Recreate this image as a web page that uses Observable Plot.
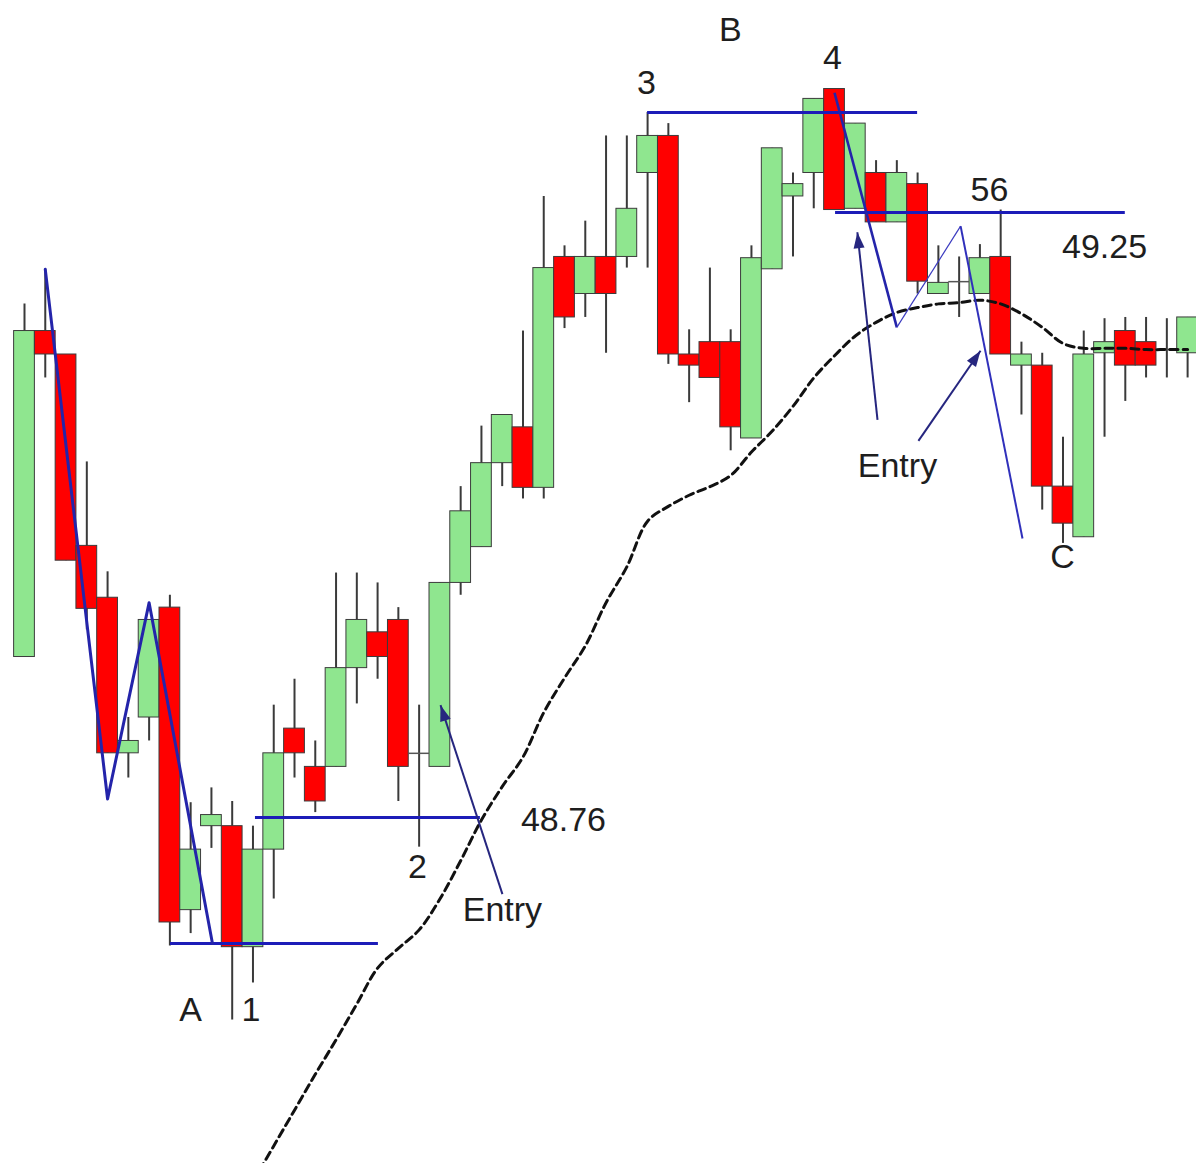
<!DOCTYPE html>
<html>
<head>
<meta charset="utf-8">
<script src="https://cdn.jsdelivr.net/npm/d3@7"></script>
<script src="https://cdn.jsdelivr.net/npm/@observablehq/plot@0.6"></script>
<style>
  html, body { margin: 0; padding: 0; background: #ffffff; }
  #chart svg { display: block; }
</style>
</head>
<body>
<div id="chart"></div>
<script>
// ---- candle data (price) ----
const candleOpen = [48.890, 49.154, 49.135, 48.980, 48.938, 48.812, 48.841, 48.930, 48.685, 48.753,
  48.753, 48.655, 48.734, 48.832, 48.801, 48.801, 48.881, 48.910, 48.920, 48.812,
  48.801, 48.950, 48.979, 49.047, 49.076, 49.027, 49.214, 49.184, 49.214, 49.214,
  49.282, 49.312, 49.135, 49.145, 49.145, 49.067, 49.204, 49.263, 49.282, 49.350,
  49.253, 49.282, 49.242, 49.273, 49.184, 49.194, 49.184, 49.214, 49.126, 49.126,
  49.028, 48.987, 49.136, 49.154, 49.145, 49.139, 49.136];
const candleHigh = [49.176, 49.204, 49.135, 49.048, 48.959, 48.841, 48.920, 48.940, 48.772, 48.784,
  48.773, 48.753, 48.851, 48.872, 48.822, 48.958, 48.958, 48.950, 48.930, 48.851,
  48.950, 49.028, 49.077, 49.086, 49.154, 49.263, 49.223, 49.243, 49.312, 49.312,
  49.331, 49.322, 49.155, 49.205, 49.155, 49.223, 49.302, 49.282, 49.342, 49.350,
  49.322, 49.292, 49.292, 49.282, 49.223, 49.214, 49.224, 49.252, 49.145, 49.136,
  49.068, 49.154, 49.164, 49.165, 49.165, 49.164, 49.165];
const candleLow = [48.890, 49.116, 48.968, 48.912, 48.812, 48.792, 48.822, 48.656, 48.666, 48.735,
  48.596, 48.626, 48.694, 48.792, 48.764, 48.801, 48.852, 48.872, 48.773, 48.736,
  48.801, 48.940, 48.979, 49.028, 49.018, 49.018, 49.156, 49.165, 49.136, 49.205,
  49.205, 49.127, 49.096, 49.116, 49.057, 49.067, 49.204, 49.214, 49.253, 49.252,
  49.253, 49.242, 49.242, 49.184, 49.184, 49.165, 49.184, 49.135, 49.086, 49.009,
  48.982, 48.987, 49.068, 49.097, 49.116, 49.116, 49.116];
const candleClose = [49.154, 49.135, 48.968, 48.929, 48.812, 48.822, 48.920, 48.675, 48.734, 48.762,
  48.655, 48.734, 48.812, 48.812, 48.773, 48.881, 48.920, 48.890, 48.801, 48.812,
  48.950, 49.008, 49.047, 49.086, 49.027, 49.205, 49.165, 49.214, 49.184, 49.253,
  49.312, 49.135, 49.126, 49.116, 49.076, 49.213, 49.302, 49.273, 49.342, 49.252,
  49.322, 49.242, 49.282, 49.194, 49.193, 49.194, 49.213, 49.135, 49.135, 49.028,
  48.998, 49.135, 49.145, 49.126, 49.126, 49.139, 49.165];

// ---- moving average (dashed) ----
const maValues = [null, null, null, null, null, null, null, null, null, null,
  null, 48.465, 48.494, 48.523, 48.552, 48.580, 48.609, 48.638, 48.654, 48.669,
  48.694, 48.725, 48.758, 48.785, 48.809, 48.845, 48.873, 48.899, 48.934, 48.963,
  49.000, 49.012, 49.021, 49.028, 49.037, 49.056, 49.073, 49.093, 49.116, 49.134,
  49.150, 49.161, 49.169, 49.173, 49.176, 49.177, 49.179, 49.176, 49.168, 49.157,
  49.144, 49.140, 49.140, 49.140, 49.139, 49.139, 49.139];

// ---- annotations (bar index, price) ----
const leftZigzagX = [1, 4, 6, 9.05];
const leftZigzagY = [49.204, 48.775, 48.934, 48.658];
const rightZigzagX = [39, 42, 45.07, 48.05];
const rightZigzagY = [49.347, 49.157, 49.239, 48.986];
const levelX1 = [7.03, 11.12, 30, 39.05];
const levelX2 = [17.04, 21.95, 43, 53.0];
const levelY = [48.658, 48.76, 49.331, 49.25];
const arrowX1 = [23.01, 41.07, 43.04];
const arrowY1 = [48.698, 49.082, 49.065];
const arrowX2 = [20.03, 40.1, 46.03];
const arrowY2 = [48.851, 49.234, 49.138];
const labelText = ["A", "1", "2", "3", "B", "4", "56", "C", "48.76", "49.25", "Entry", "Entry"];
const labelX = [8, 10.9, 18.92, 29.95, 33.99, 38.9, 46.46, 49.98, 25.95, 52.0, 23.01, 42.03];
const labelY = [48.604, 48.604, 48.720, 49.355, 49.398, 49.375, 49.268, 48.971, 48.758, 49.222, 48.685, 49.045];

// ---- chart ----
const W = 1196, H = 1163;
const xDomain = [-1.1555, 56.428];
const yDomain = [48.4798, 49.4217];

const idx = candleOpen.map((_, i) => i);
const bodies = idx.filter(i => candleOpen[i] !== candleClose[i]);
const dojis = idx.filter(i => candleOpen[i] === candleClose[i]);
const maIdx = idx.filter(i => maValues[i] != null);

const xS = d3.scaleLinear().domain(xDomain).range([0, W]);
const yS = d3.scaleLinear().domain(yDomain).range([H, 0]);

const headSymbol = {
  draw(ctx) {
    const L = 16, w = 11;
    ctx.moveTo(0, 0);
    ctx.lineTo(-w / 2, L);
    ctx.lineTo(w / 2, L);
    ctx.closePath();
  }
};
const arrowColor = "#26267f";
const headMarks = arrowX1.map((_, k) => {
  const px = xS(arrowX2[k]) - xS(arrowX1[k]);
  const py = yS(arrowY2[k]) - yS(arrowY1[k]);
  const angle = Math.atan2(px, -py) * 180 / Math.PI;
  return Plot.dot([k], {
    x: d => arrowX2[d], y: d => arrowY2[d],
    symbol: headSymbol, r: 6, fill: arrowColor, stroke: "none", rotate: angle
  });
});

const seg = (xs, ys) => xs.slice(0, -1).map((_, k) => k);

const chart = Plot.plot({
  width: W,
  height: H,
  margin: 0,
  x: { domain: xDomain, axis: null },
  y: { domain: yDomain, axis: null },
  marks: [
    // wicks
    Plot.ruleX(idx, { x: i => i, y1: i => candleLow[i], y2: i => candleHigh[i], stroke: "#3a3a3a", strokeWidth: 2 }),
    // bodies
    Plot.rect(bodies, {
      x1: i => i - 0.5, x2: i => i + 0.5,
      y1: i => Math.min(candleOpen[i], candleClose[i]),
      y2: i => Math.max(candleOpen[i], candleClose[i]),
      fill: i => candleClose[i] > candleOpen[i] ? "#8fe68f" : "#ff0000",
      stroke: "#3c3c3c", strokeWidth: 1
    }),
    // doji bars
    Plot.ruleY(dojis, { y: i => candleOpen[i], x1: i => i - 0.5, x2: i => i + 0.5, stroke: "#555", strokeWidth: 1.5 }),
    // moving average
    Plot.line(maIdx, { x: i => i, y: i => maValues[i], stroke: "#111", strokeWidth: 3, strokeDasharray: "8,5", curve: "catmull-rom", clip: true }),
    // level lines
    Plot.ruleY(levelY.map((_, k) => k), { y: k => levelY[k], x1: k => levelX1[k], x2: k => levelX2[k], stroke: "#1c1cb8", strokeWidth: 3 }),
    // left zigzag
    Plot.line(leftZigzagX.map((_, k) => k), { x: k => leftZigzagX[k], y: k => leftZigzagY[k], stroke: "#2424aa", strokeWidth: 3 }),
    // right zigzag (varying weight)
    Plot.link([0], { x1: k => rightZigzagX[k], y1: k => rightZigzagY[k], x2: k => rightZigzagX[k + 1], y2: k => rightZigzagY[k + 1], stroke: "#2424aa", strokeWidth: 2.6 }),
    Plot.link([1], { x1: k => rightZigzagX[k], y1: k => rightZigzagY[k], x2: k => rightZigzagX[k + 1], y2: k => rightZigzagY[k + 1], stroke: "#3a3ac0", strokeWidth: 1.2 }),
    Plot.link([2], { x1: k => rightZigzagX[k], y1: k => rightZigzagY[k], x2: k => rightZigzagX[k + 1], y2: k => rightZigzagY[k + 1], stroke: "#3030bb", strokeWidth: 2 }),
    // entry arrows
    Plot.link(arrowX1.map((_, k) => k), { x1: k => arrowX1[k], y1: k => arrowY1[k], x2: k => arrowX2[k], y2: k => arrowY2[k], stroke: arrowColor, strokeWidth: 2 }),
    ...headMarks,
    // labels
    Plot.text(labelText.map((_, k) => k), {
      x: k => labelX[k], y: k => labelY[k], text: k => labelText[k],
      fontSize: 34, fontFamily: "Liberation Sans, Arial, sans-serif", fill: "#1e1e1e",
      textAnchor: "middle", lineAnchor: "middle"
    })
  ]
});
document.getElementById("chart").appendChild(chart);
</script>
</body>
</html>
